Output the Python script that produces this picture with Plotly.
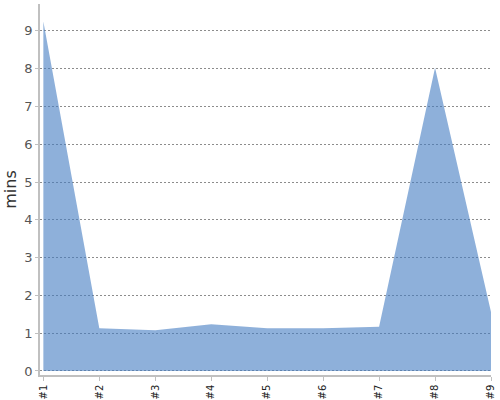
import plotly.graph_objects as go

labels = ["#1", "#2", "#3", "#4", "#5", "#6", "#7", "#8", "#9"]
mins = [9.25, 1.13, 1.08, 1.24, 1.13, 1.13, 1.17, 8.02, 1.56]

fig = go.Figure(
    data=[
        go.Scatter(
            x=list(range(len(labels))),
            y=mins,
            mode="lines",
            line=dict(width=0, color="rgba(67,123,193,0.6)"),
            fill="tozeroy",
            fillcolor="rgba(67,123,193,0.6)",
            hoverinfo="skip",
        )
    ]
)

fig.update_layout(
    width=500,
    height=400,
    margin=dict(l=40, r=9, t=4, b=25, autoexpand=False),
    paper_bgcolor="white",
    plot_bgcolor="white",
    showlegend=False,
    font=dict(family="DejaVu Sans", color="#555555"),
    xaxis=dict(
        range=[-0.06, 8],
        tickvals=list(range(len(labels))),
        ticktext=labels,
        tickangle=-90,
        tickfont=dict(size=10, color="#222222"),
        showgrid=False,
        zeroline=False,
        showline=True,
        linecolor="#c0c0c0",
        linewidth=1.5,
        ticks="outside",
        ticklen=4,
        tickcolor="#c0c0c0",
        automargin=False,
    ),
    yaxis=dict(
        range=[-0.106, 9.71],
        tickvals=list(range(10)),
        tickfont=dict(size=13, color="#555555"),
        showgrid=True,
        gridcolor="#8c8c8c",
        griddash="2px,2px",
        gridwidth=1,
        zeroline=False,
        showline=True,
        linecolor="#c0c0c0",
        linewidth=1.5,
        ticks="outside",
        ticklen=3,
        tickcolor="#c0c0c0",
        automargin=False,
        title=dict(text="mins", font=dict(size=16, color="#333333"), standoff=4),
    ),
)

# drop the page's default body margin so the figure sits at the window's corner
fig.write_html(
    "out.html",
    config={"displayModeBar": False},
    post_script="document.body.style.margin='0';",
)
